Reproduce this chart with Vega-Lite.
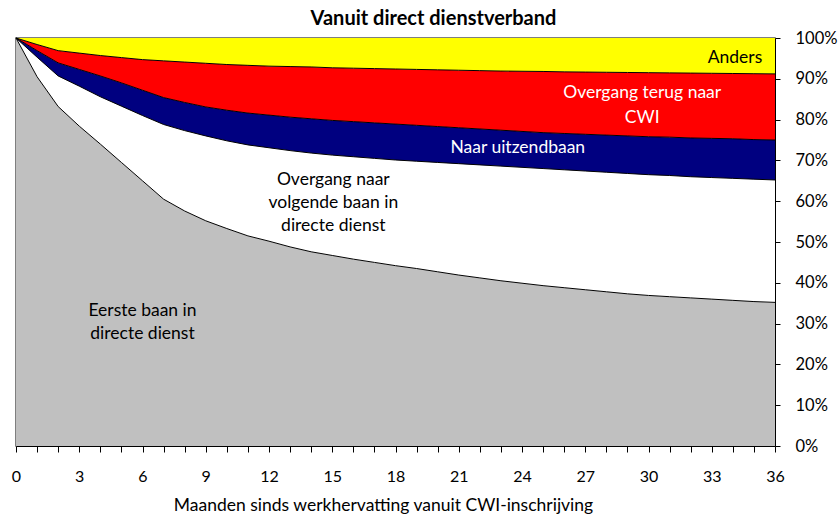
{
  "$schema": "https://vega.github.io/schema/vega-lite/v6.json",
  "autosize": "none",
  "width": 759,
  "height": 408,
  "padding": {"left": 16, "top": 38, "right": 65, "bottom": 69},
  "background": "white",
  "config": {
    "font": "Lato",
    "view": {"stroke": "#555555", "strokeWidth": 1.5},
    "axis": {"grid": false, "labelFont": "Lato", "titleFont": "Lato", "labelColor": "#000", "titleColor": "#000", "domainColor": "#000", "tickColor": "#000"}
  },
  "title": {"text": "Vanuit direct dienstverband", "fontSize": 20, "fontWeight": "bold", "font": "Lato", "color": "#000", "anchor": "middle", "frame": "group", "dx": 38, "offset": 1},
  "datasets": {
    "series": [
      {"m": 0, "g": 100, "w": 100, "n": 100, "r": 100},
      {"m": 1, "g": 90.5, "w": 95.3, "n": 96.9, "r": 98.4},
      {"m": 2, "g": 83.2, "w": 90.7, "n": 93.9, "r": 96.9},
      {"m": 3, "g": 78.4, "w": 88.2, "n": 92.3, "r": 96.3},
      {"m": 4, "g": 74.0, "w": 85.6, "n": 90.7, "r": 95.7},
      {"m": 5, "g": 69.5, "w": 83.3, "n": 89.0, "r": 95.2},
      {"m": 6, "g": 65.0, "w": 81.0, "n": 87.2, "r": 94.7},
      {"m": 7, "g": 60.5, "w": 78.8, "n": 85.4, "r": 94.4},
      {"m": 8, "g": 57.6, "w": 77.3, "n": 84.2, "r": 94.1},
      {"m": 9, "g": 55.2, "w": 76.0, "n": 83.1, "r": 93.8},
      {"m": 10, "g": 53.3, "w": 74.8, "n": 82.3, "r": 93.5},
      {"m": 11, "g": 51.5, "w": 73.8, "n": 81.6, "r": 93.3},
      {"m": 12, "g": 50.2, "w": 73.1, "n": 81.1, "r": 93.1},
      {"m": 13, "g": 48.8, "w": 72.4, "n": 80.6, "r": 93.0},
      {"m": 14, "g": 47.6, "w": 71.8, "n": 80.2, "r": 92.9},
      {"m": 15, "g": 46.7, "w": 71.3, "n": 79.8, "r": 92.7},
      {"m": 16, "g": 45.8, "w": 70.9, "n": 79.5, "r": 92.6},
      {"m": 17, "g": 45.0, "w": 70.5, "n": 79.2, "r": 92.5},
      {"m": 18, "g": 44.2, "w": 70.1, "n": 78.9, "r": 92.4},
      {"m": 19, "g": 43.5, "w": 69.8, "n": 78.6, "r": 92.3},
      {"m": 20, "g": 42.7, "w": 69.5, "n": 78.3, "r": 92.2},
      {"m": 21, "g": 41.9, "w": 69.2, "n": 78.0, "r": 92.1},
      {"m": 22, "g": 41.2, "w": 68.9, "n": 77.7, "r": 92.0},
      {"m": 23, "g": 40.5, "w": 68.6, "n": 77.4, "r": 91.9},
      {"m": 24, "g": 39.9, "w": 68.3, "n": 77.1, "r": 91.85},
      {"m": 25, "g": 39.3, "w": 68.0, "n": 76.8, "r": 91.8},
      {"m": 26, "g": 38.8, "w": 67.7, "n": 76.6, "r": 91.7},
      {"m": 27, "g": 38.3, "w": 67.4, "n": 76.4, "r": 91.65},
      {"m": 28, "g": 37.8, "w": 67.1, "n": 76.2, "r": 91.6},
      {"m": 29, "g": 37.3, "w": 66.8, "n": 76.0, "r": 91.55},
      {"m": 30, "g": 36.9, "w": 66.5, "n": 75.8, "r": 91.5},
      {"m": 31, "g": 36.6, "w": 66.3, "n": 75.7, "r": 91.45},
      {"m": 32, "g": 36.3, "w": 66.0, "n": 75.5, "r": 91.4},
      {"m": 33, "g": 36.0, "w": 65.8, "n": 75.4, "r": 91.35},
      {"m": 34, "g": 35.7, "w": 65.6, "n": 75.3, "r": 91.3},
      {"m": 35, "g": 35.4, "w": 65.4, "n": 75.1, "r": 91.25},
      {"m": 36, "g": 35.2, "w": 65.2, "n": 75.0, "r": 91.2}
    ],
    "labelsDark": [
      {"m": 34.1, "v": 95.0, "t": "Anders"},
      {"m": 15.05, "v": 65.2, "t": "Overgang naar\nvolgende baan in\ndirecte dienst"},
      {"m": 6.0, "v": 33.1, "t": "Eerste baan in\ndirecte dienst"}
    ],
    "labelsLight": [
      {"m": 29.7, "v": 86.6, "t": "Overgang terug naar\nCWI"},
      {"m": 23.8, "v": 73.0, "t": "Naar uitzendbaan"}
    ]
  },
  "data": {"name": "series"},
  "encoding": {
    "x": {
      "field": "m", "type": "quantitative",
      "scale": {"domain": [0, 36], "nice": false, "zero": false},
      "axis": {
        "values": [0,1,2,3,4,5,6,7,8,9,10,11,12,13,14,15,16,17,18,19,20,21,22,23,24,25,26,27,28,29,30,31,32,33,34,35,36],
        "labelExpr": "datum.value % 3 === 0 ? datum.label : ''",
        "labelFlush": false, "labelOverlap": false,
        "tickSize": 6, "labelPadding": 16, "labelFontSize": 16,
        "title": "Maanden sinds werkhervatting vanuit CWI-inschrijving",
        "titleFontSize": 17.5, "titleFontWeight": "normal", "titlePadding": 12, "titleX": 367
      }
    }
  },
  "layer": [
    {
      "mark": {"type": "area", "color": "#C0C0C0", "opacity": 1},
      "encoding": {
        "y": {
          "field": "g", "type": "quantitative",
          "scale": {"domain": [0, 100], "nice": false},
          "axis": {"orient": "right", "values": [0,10,20,30,40,50,60,70,80,90,100], "labelExpr": "datum.value + '%'", "tickSize": 5, "labelPadding": 15, "labelFontSize": 16.5, "title": null}
        },
        "y2": {"datum": 0}
      }
    },
    {
      "mark": {"type": "area", "color": "#FFFFFF", "opacity": 1},
      "encoding": {"y": {"field": "w", "type": "quantitative", "title": null}, "y2": {"field": "g"}}
    },
    {
      "mark": {"type": "area", "color": "#000080", "opacity": 1},
      "encoding": {"y": {"field": "n", "type": "quantitative", "title": null}, "y2": {"field": "w"}}
    },
    {
      "mark": {"type": "area", "color": "#FF0000", "opacity": 1},
      "encoding": {"y": {"field": "r", "type": "quantitative", "title": null}, "y2": {"field": "n"}}
    },
    {
      "mark": {"type": "area", "color": "#FFFF00", "opacity": 1},
      "encoding": {"y": {"field": "r", "type": "quantitative", "title": null}, "y2": {"datum": 100}}
    },
    {"mark": {"type": "line", "color": "#000", "strokeWidth": 1}, "encoding": {"y": {"field": "g", "type": "quantitative", "title": null}}},
    {"mark": {"type": "line", "color": "#000", "strokeWidth": 1}, "encoding": {"y": {"field": "w", "type": "quantitative", "title": null}}},
    {"mark": {"type": "line", "color": "#000", "strokeWidth": 1}, "encoding": {"y": {"field": "n", "type": "quantitative", "title": null}}},
    {"mark": {"type": "line", "color": "#000", "strokeWidth": 1}, "encoding": {"y": {"field": "r", "type": "quantitative", "title": null}}},
    {
      "data": {"name": "labelsDark"},
      "mark": {"type": "text", "font": "Lato", "fontSize": 17.5, "color": "#000", "align": "center", "baseline": "middle", "lineBreak": "\n", "lineHeight": 23},
      "encoding": {"y": {"field": "v", "type": "quantitative", "title": null}, "text": {"field": "t"}}
    },
    {
      "data": {"name": "labelsLight"},
      "mark": {"type": "text", "font": "Lato", "fontSize": 17.5, "color": "#FFFFFF", "align": "center", "baseline": "middle", "lineBreak": "\n", "lineHeight": 25},
      "encoding": {"y": {"field": "v", "type": "quantitative", "title": null}, "text": {"field": "t"}}
    }
  ]
}
